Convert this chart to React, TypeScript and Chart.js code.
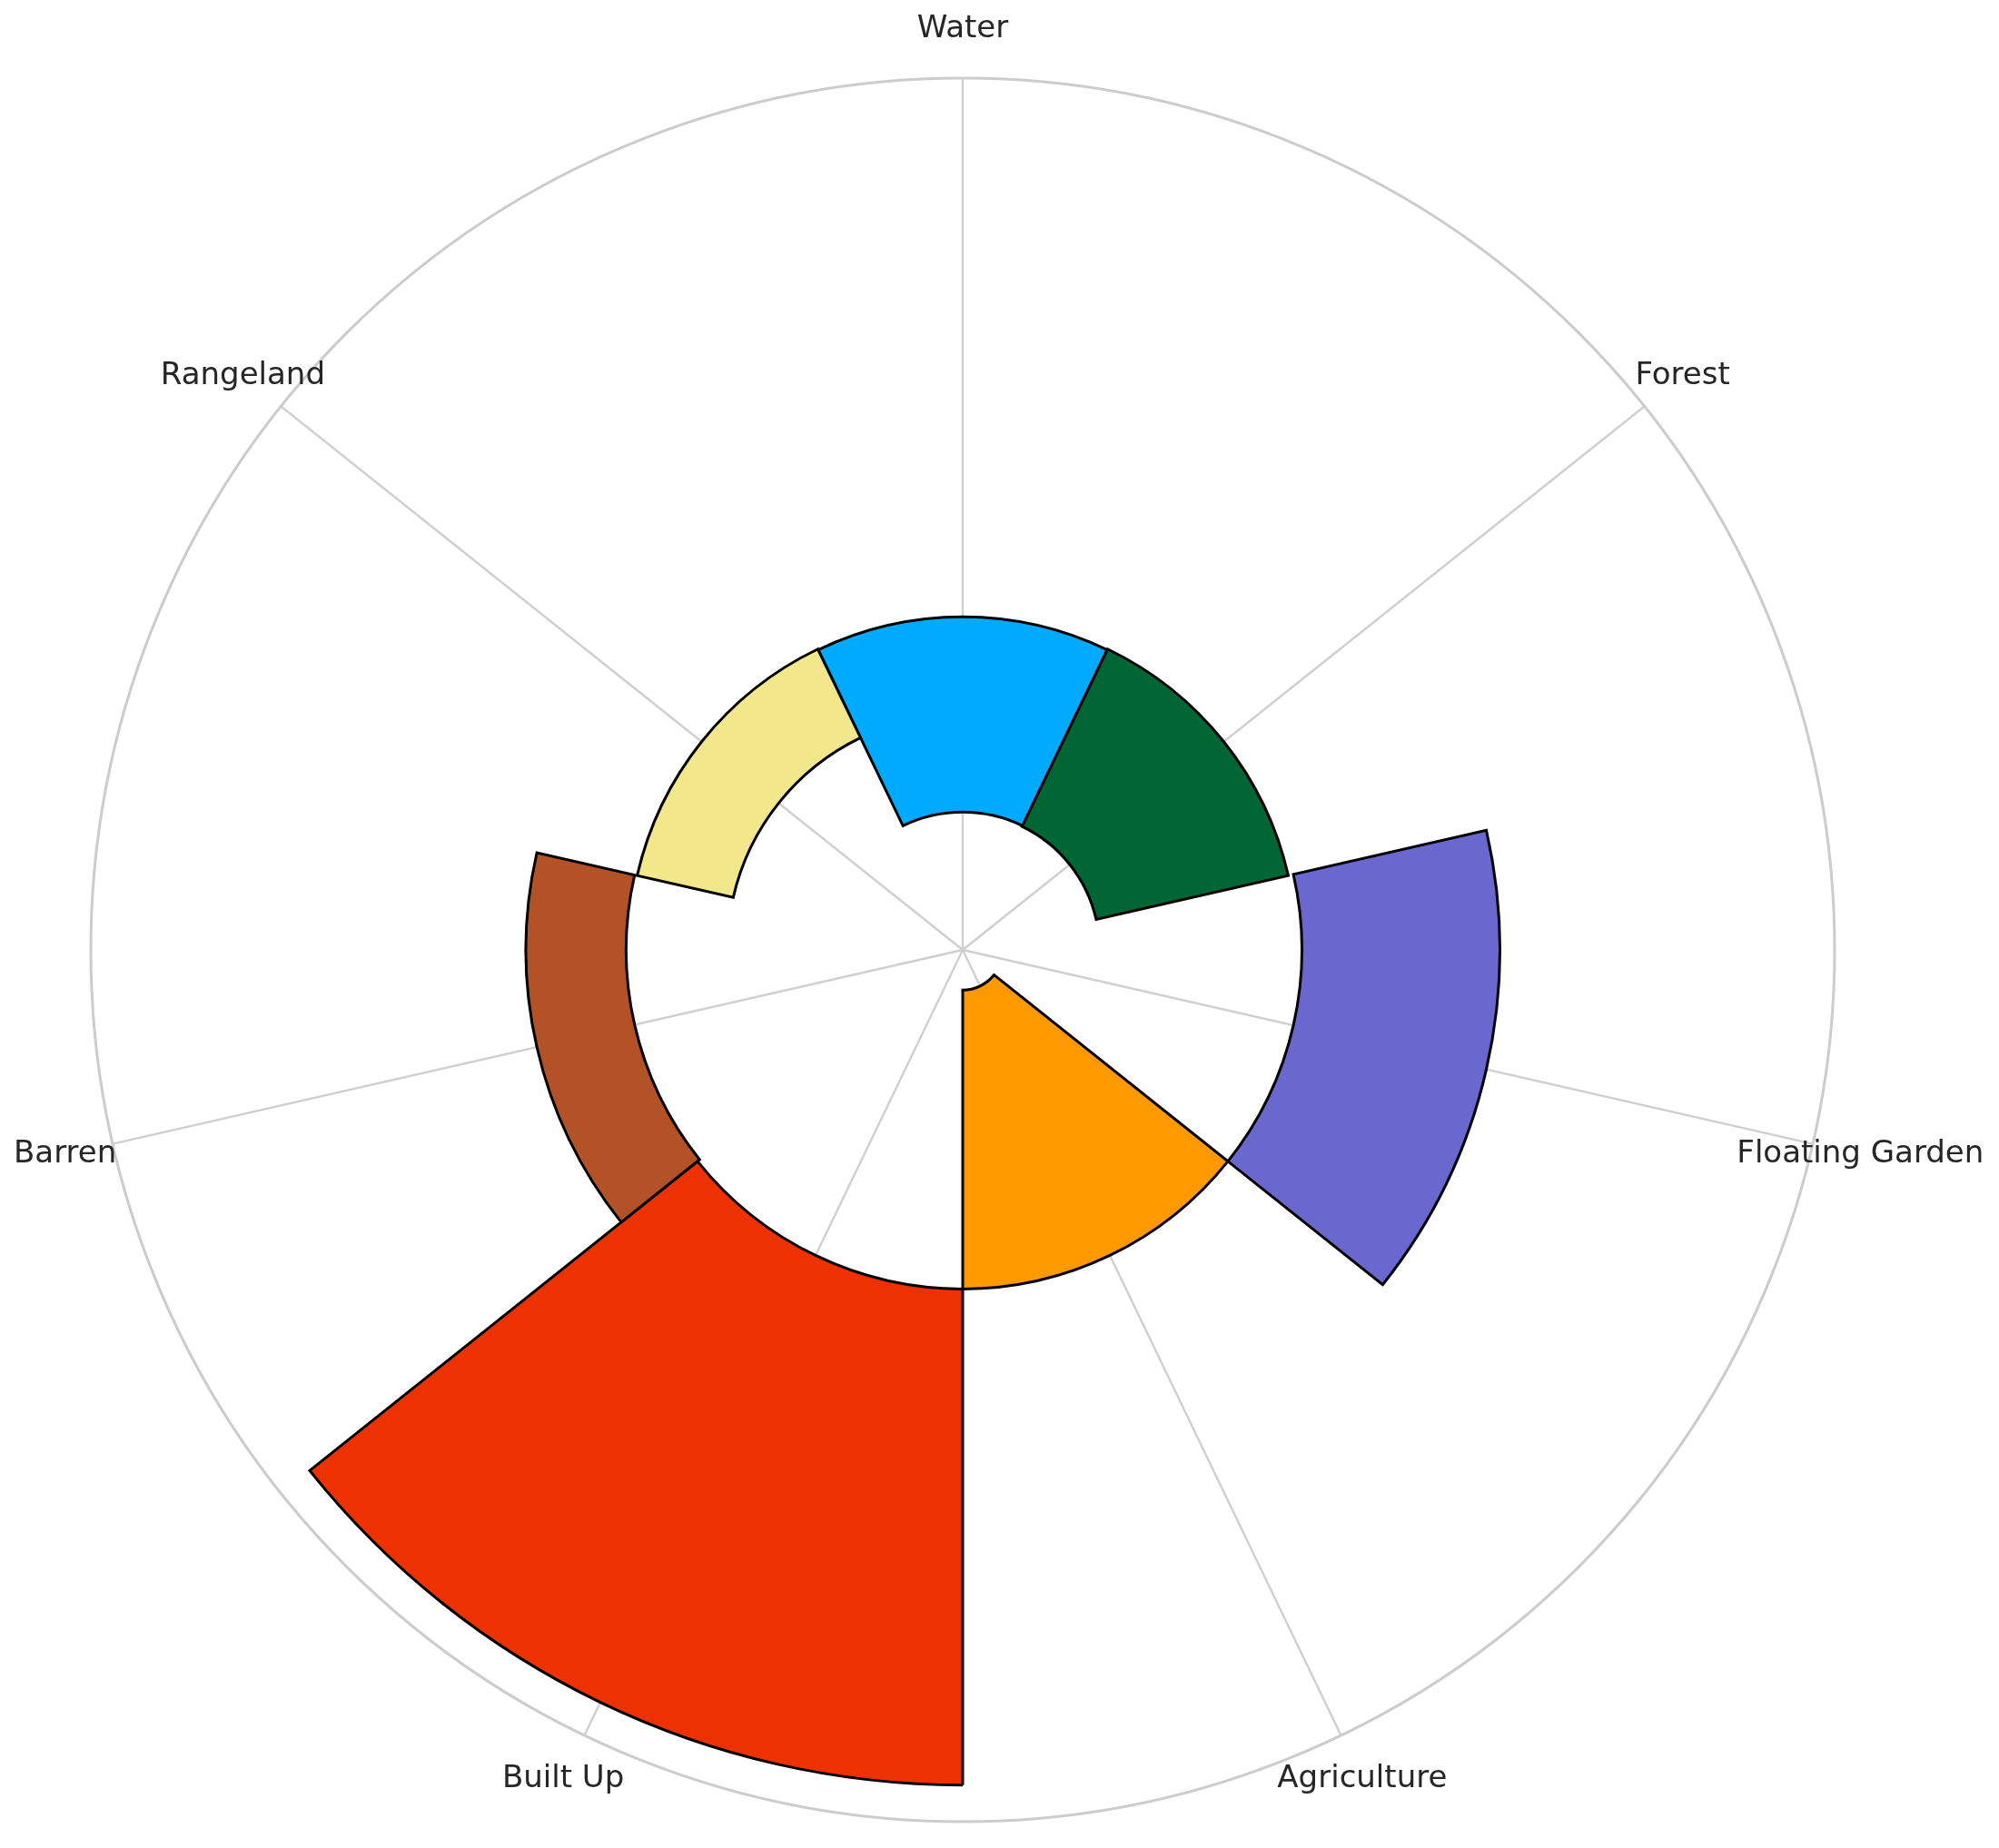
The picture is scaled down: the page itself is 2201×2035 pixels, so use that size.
import React, { useEffect, useRef } from "react";
import { Chart, registerables } from "chart.js";

Chart.register(...registerables);

// Categories clockwise from the top
const categories = ["Water", "Forest", "Floating Garden", "Agriculture", "Built Up", "Barren", "Rangeland"];
// Radial extents of each bar (0–100 radial scale, 100 = outer circle)
const barBottoms = [15.8, 15.7, 38.9, 4.6, 38.9, 38.6, 27.0];
const barTops = [38.2, 38.3, 61.6, 38.9, 95.8, 50.1, 38.3];
const barColors = ["#00AAFF", "#006633", "#6A67CE", "#FF9900", "#EE3100", "#B45227", "#F3E78C"];
const radialMin = 0;
const radialMax = 100;
const labelRadiusValue = 105.6;

export default function App() {
  const ref = useRef<HTMLCanvasElement>(null);

  useEffect(() => {
    document.body.style.margin = "0";
    const canvas = ref.current;
    if (!canvas) return;

    const floatingBars = {
      id: "floatingBars",
      afterDatasetsUpdate(chart: any) {
        const scale = chart.scales.r;
        const meta = chart.getDatasetMeta(0);
        const half = Math.PI / categories.length;
        meta.data.forEach((el: any, i: number) => {
          el.innerRadius = scale.getDistanceFromCenterForValue(barBottoms[i]);
          el.startAngle -= half;
          el.endAngle -= half;
        });
      },
    };

    const thetaLabels = {
      id: "thetaLabels",
      afterDraw(chart: any) {
        const scale = chart.scales.r;
        const ctx = chart.ctx;
        ctx.save();
        ctx.font = "34px 'DejaVu Sans'";
        ctx.fillStyle = "#262626";
        ctx.textAlign = "center";
        ctx.textBaseline = "middle";
        categories.forEach((c, i) => {
          const p = scale.getPointPositionForValue(i, labelRadiusValue);
          ctx.fillText(c, p.x, p.y);
        });
        ctx.restore();
      },
    };

    const chart = new Chart(canvas, {
      type: "polarArea",
      data: {
        labels: categories,
        datasets: [
          {
            data: barTops,
            backgroundColor: barColors,
            borderColor: "#000000",
            borderWidth: 3,
            borderJoinStyle: "miter",
            borderAlign: "center",
          } as any,
        ],
      },
      options: {
        animation: false,
        responsive: false,
        devicePixelRatio: 1,
        events: [],
        layout: { padding: { left: 100, top: 86, right: 181, bottom: 29 } },
        plugins: {
          legend: { display: false },
          tooltip: { enabled: false },
        },
        scales: {
          r: {
            type: "radialLinear",
            min: radialMin,
            max: radialMax,
            startAngle: 0,
            ticks: { display: false, stepSize: 100 },
            grid: { display: true, circular: true, color: "#cccccc", lineWidth: 3 },
            angleLines: { display: true, color: "#cfcfcf", lineWidth: 2.4 },
            pointLabels: { display: false },
          },
        },
      } as any,
      plugins: [floatingBars, thetaLabels],
    });

    return () => chart.destroy();
  }, []);

  return (
    <div style={{ width: 2201, height: 2035, background: "#ffffff" }}>
      <canvas ref={ref} width={2201} height={2035} style={{ display: "block" }} />
    </div>
  );
}
